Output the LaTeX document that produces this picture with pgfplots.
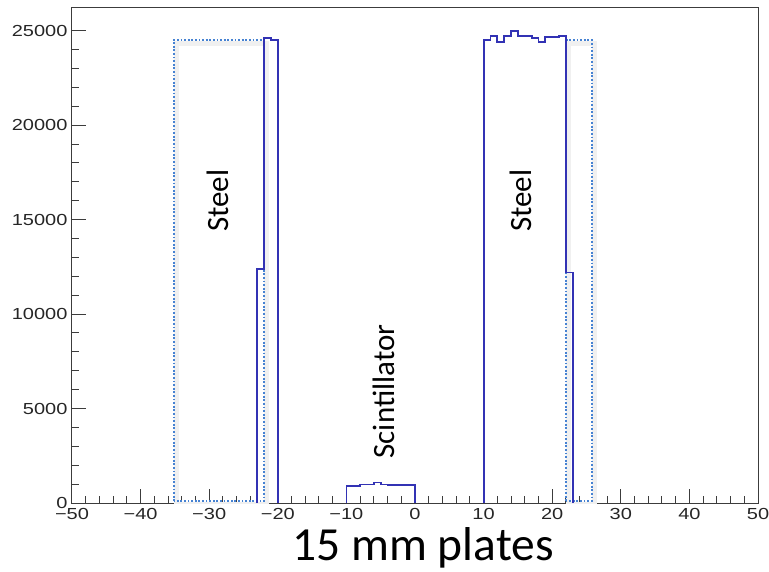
\documentclass[border=0pt]{standalone}
\usepackage{fontspec}
\setmainfont{Carlito}
\newfontfamily\tickfont[FakeStretch=1.25]{Liberation Sans}
\newfontfamily\unitfont{Liberation Sans}
\usepackage{pgfplots}
\pgfplotsset{compat=1.18}
\definecolor{histblue}{RGB}{50,50,180}
\definecolor{boxblue}{RGB}{70,130,210}
\definecolor{frame}{RGB}{60,60,60}

\begin{document}
\begin{tikzpicture}
\useasboundingbox (-72pt,-68pt) rectangle (697pt,503pt);
\begin{axis}[
    at={(0,0)}, anchor=south west,
    scale only axis,
    width=686pt, height=495pt,
    xmin=-50, xmax=50,
    ymin=0, ymax=26200,
    axis line style={frame, line width=1pt},
    tick align=inside,
    xtick pos=bottom, ytick pos=left,
    xtick={-50,-40,...,50},
    xticklabels={−50,−40,−30,−20,−10,0,10,20,30,40,50},
    minor x tick num=4,
    ytick={0,5000,...,25000},
    yticklabels={0,5000,10000,15000,20000,25000},
    minor y tick num=4,
    major tick length=14pt,
    minor tick length=7pt,
    every tick/.style={frame, line width=1pt},
    ticklabel style={font=\tickfont\fontsize{16}{16}\selectfont, text=black!85},
    xticklabel style={yshift=-2pt},
    yticklabel style={xshift=-1pt},
]
% dotted plate outlines (soft shadow first)
\addplot[gray!12, line width=5pt, xshift=2.5pt, yshift=-3.5pt]
    coordinates {(-35.2,100)(-35.2,24500)(-22,24500)(-22,100)} -- cycle;
\addplot[gray!12, line width=5pt, xshift=2.5pt, yshift=-3.5pt]
    coordinates {(22,100)(22,24500)(25.75,24500)(25.75,100)} -- cycle;
\addplot[boxblue, line width=2pt, dash pattern=on 1.8pt off 1.8pt]
    coordinates {(-35.2,100)(-35.2,24500)(-22,24500)(-22,100)} -- cycle;
\addplot[boxblue, line width=2pt, dash pattern=on 1.8pt off 1.8pt]
    coordinates {(22,100)(22,24500)(25.75,24500)(25.75,100)} -- cycle;
% histogram blocks
\addplot[histblue, line width=1.8pt, const plot mark left] coordinates {
    (-23,0)(-23,12400)(-22,24610)(-21,24520)(-20,0)};
\addplot[histblue, line width=1.8pt, const plot mark left] coordinates {
    (-10,0)(-10,920)(-9,920)(-8,980)(-7,980)(-6,1080)(-5,980)(-4,970)(-3,970)(-2,960)(-1,950)(0,0)};
\addplot[histblue, line width=1.8pt, const plot mark left] coordinates {
    (10,0)(10,24520)(11,24700)(12,24380)(13,24700)(14,24970)(15,24700)(16,24730)
    (17,24610)(18,24380)(19,24660)(20,24660)(21,24730)(22,12200)(23,0)};
\node[rotate=90, font=\fontsize{31}{31}\selectfont] at (axis cs:-28.8,16000) {Steel};
\node[rotate=90, font=\fontsize{31}{31}\selectfont] at (axis cs:15.5,16000) {Steel};
\node[rotate=90, font=\fontsize{31}{31}\selectfont] at (axis cs:-4.5,5900) {Scintillator};
\node[anchor=north east, font=\unitfont\fontsize{18}{18}\selectfont, text=black!85]
    at (rel axis cs:1,0) [xshift=-5pt, yshift=-27pt] {mm};
\end{axis}
\node[font=\fontsize{47.5}{47.5}\selectfont] at (351pt,-45pt) {15 mm plates};
\end{tikzpicture}
\end{document}
